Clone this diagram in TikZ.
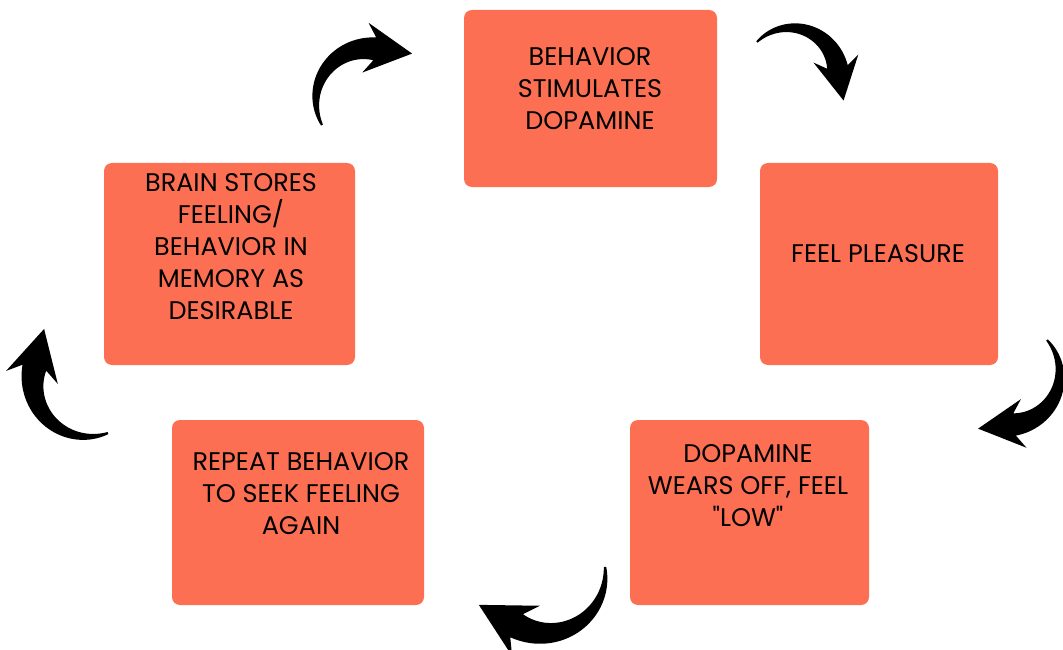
\documentclass[tikz,border=0pt]{standalone}
\usepackage{fontspec}
\setmainfont{Poppins}[Ligatures=TeXOff]
\usetikzlibrary{calc}
\definecolor{coral}{RGB}{253,111,83}
\tikzset{
  card/.style={fill=coral, rounded corners=8pt, inner sep=0pt},
  cardtext/.style={align=center, font=\fontsize{25.5}{32}\selectfont},
  swoosh/.pic={
    \fill[black]
      plot[domain=0:1, samples=40, variable=\s] ({(49-10*\s)*cos(150-125*\s)}, {(49-10*\s)*sin(150-125*\s)})
      -- ($(25:26)+(115:9)$) -- ($(25:50)+(-65:36)$) -- ($(25:74)+(115:9)$)
      -- plot[domain=1:0, samples=40, variable=\s] ({(51+10*\s)*cos(150-125*\s)}, {(51+10*\s)*sin(150-125*\s)})
      -- cycle;
  }
}
\begin{document}
\begin{tikzpicture}[x=1pt, y=1pt]
  \useasboundingbox (0,0) rectangle (1063,-650);
  \node[card, minimum width=253pt, minimum height=177pt] (behav) at (590.5,-98.5) {};
  \node[card, minimum width=238pt, minimum height=202pt] (pleasure) at (879,-264) {};
  \node[card, minimum width=239pt, minimum height=185pt] (low) at (749.5,-512.5) {};
  \node[card, minimum width=252pt, minimum height=185pt] (repeat) at (298,-512.5) {};
  \node[card, minimum width=251pt, minimum height=202pt] (stores) at (229.5,-264) {};
  \node[cardtext] (behavtxt) at (590,-89) {BEHAVIOR\\STIMULATES\\DOPAMINE};
  \node[cardtext] (pleasuretxt) at (878,-254) {FEEL PLEASURE};
  \node[cardtext] (lowtxt) at (748,-486) {DOPAMINE\\WEARS OFF, FEEL\\"LOW"};
  \node[cardtext] (repeattxt) at (301,-494) {REPEAT BEHAVIOR\\TO SEEK FEELING\\AGAIN};
  \node[cardtext] (storestxt) at (231,-247) {BRAIN STORES\\FEELING/\\BEHAVIOR IN\\MEMORY AS\\DESIRABLE};
  \pic[rotate=57.8, scale=1.045] (toBehav) at (368.2,-100.7) {swoosh};
  \pic[rotate=-14.7, scale=0.95] (toPleasure) at (790.7,-75.4) {swoosh};
  \pic[rotate=-108.5, scale=1.02] (toLow) at (1008.8,-373.8) {swoosh};
  \pic[rotate=-143.9, scale=1.197] (toRepeat) at (545.5,-573.3) {swoosh};
  \pic[rotate=140.9, scale=1.11] (toStores) at (88.2,-381.2) {swoosh};
\end{tikzpicture}
\end{document}
